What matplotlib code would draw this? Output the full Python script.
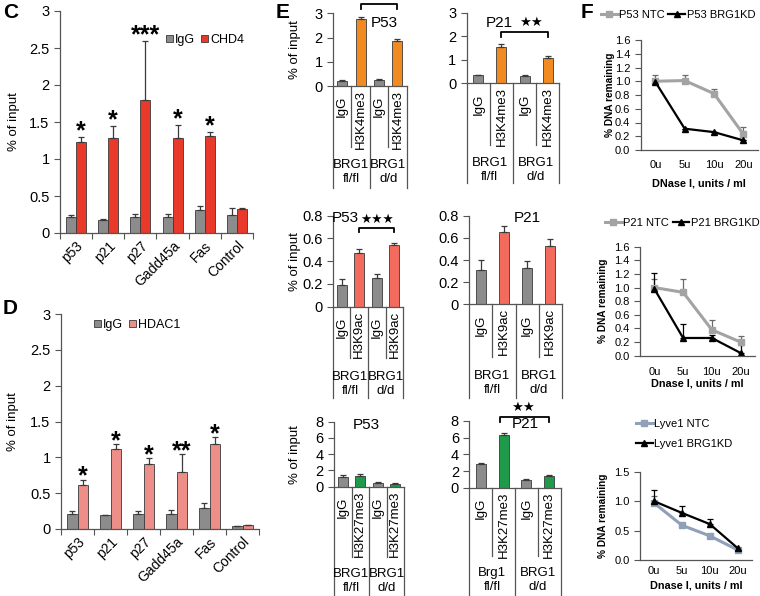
import matplotlib
matplotlib.use('Agg')
import matplotlib.pyplot as plt
import matplotlib.transforms as mtransforms
from matplotlib.lines import Line2D
from matplotlib.patches import Patch
import numpy as np

plt.rcParams['font.family'] = ['Liberation Sans', 'DejaVu Sans']

W, H = 760, 596
fig = plt.figure(figsize=(W / 100, H / 100), dpi=100)

# ---------------- data ----------------
genes = ['p53', 'p21', 'p27', 'Gadd45a', 'Fas', 'Control']
c_igg = [0.21, 0.18, 0.22, 0.21, 0.31, 0.24]
c_igg_err = [0.04, 0.01, 0.04, 0.05, 0.06, 0.10]
c_chd4 = [1.23, 1.28, 1.80, 1.28, 1.31, 0.33]
c_chd4_err = [0.07, 0.17, 0.80, 0.18, 0.06, 0.01]
c_stars = ['*', '*', '***', '*', '*', '']

d_igg = [0.21, 0.19, 0.21, 0.21, 0.30, 0.04]
d_igg_err = [0.04, 0.01, 0.04, 0.05, 0.06, 0.005]
d_hdac1 = [0.62, 1.12, 0.91, 0.79, 1.19, 0.05]
d_hdac1_err = [0.07, 0.07, 0.08, 0.26, 0.09, 0.01]
d_stars = ['*', '*', '*', '**', '*', '']

e_k4_labels = ['IgG', 'H3K4me3', 'IgG', 'H3K4me3']
e_k9_labels = ['IgG', 'H3K9ac', 'IgG', 'H3K9ac']
e_k27_labels = ['IgG', 'H3K27me3', 'IgG', 'H3K27me3']
e_groups = ['BRG1\nfl/fl', 'BRG1\nd/d']
e_groups_brg = ['Brg1\nfl/fl', 'BRG1\nd/d']

p53_k4 = [0.20, 2.77, 0.25, 1.87]
p53_k4_err = [0.03, 0.08, 0.03, 0.05]
p21_k4 = [0.34, 1.56, 0.33, 1.06]
p21_k4_err = [0.03, 0.12, 0.03, 0.12]
p53_k9 = [0.19, 0.47, 0.25, 0.54]
p53_k9_err = [0.05, 0.04, 0.04, 0.02]
p21_k9 = [0.31, 0.65, 0.33, 0.53]
p21_k9_err = [0.09, 0.06, 0.06, 0.06]
p53_k27 = [1.2, 1.35, 0.50, 0.37]
p53_k27_err = [0.25, 0.25, 0.06, 0.03]
p21_k27 = [2.8, 6.3, 0.9, 1.4]
p21_k27_err = [0.15, 0.3, 0.15, 0.07]

doses = ['0u', '5u', '10u', '20u']
f1_ntc = [1.00, 1.01, 0.82, 0.23]
f1_ntc_err = [0.09, 0.08, 0.07, 0.10]
f1_kd = [0.99, 0.31, 0.26, 0.14]
f1_kd_err = [0.05, 0.0, 0.0, 0.0]
f2_ntc = [1.00, 0.93, 0.38, 0.20]
f2_ntc_err = [0.12, 0.20, 0.14, 0.09]
f2_kd = [0.98, 0.26, 0.26, 0.04]
f2_kd_err = [0.23, 0.21, 0.04, 0.11]
f3_ntc = [0.97, 0.59, 0.41, 0.17]
f3_ntc_err = [0.12, 0.0, 0.0, 0.0]
f3_kd = [1.00, 0.80, 0.61, 0.20]
f3_kd_err = [0.19, 0.12, 0.08, 0.0]

GRAY = '#8c8c8c'
EDGE = '#3a3a3a'
AXC = '#555555'


def add_ax(l, t, r, b):
    return fig.add_axes([l / W, 1 - b / H, (r - l) / W, (b - t) / H])


def style(ax):
    for s in ('top', 'right'):
        ax.spines[s].set_visible(False)
    for s in ('left', 'bottom'):
        ax.spines[s].set_color(AXC)
        ax.spines[s].set_linewidth(0.9)
    ax.tick_params(colors=AXC, labelcolor='black', width=0.8, length=4, direction='out')


def place_ylabel(ax, text, xc, rect, **kw):
    l, t, r, b = rect
    ax.set_ylabel(text, **kw)
    ax.yaxis.set_label_coords((xc - l) / (r - l), 0.5)
    ax.yaxis.label.set_va('center')


def cd_panel(rect, igg, igg_err, v2, v2_err, color2, label2, stars, leg_anchor, ylab_x, star_off):
    ax = add_ax(*rect)
    style(ax)
    n = len(genes)
    x = np.arange(n) + 0.5
    w = 0.31
    z = np.zeros(n)
    ax.bar(x - w / 2, igg, w, color=GRAY, edgecolor=EDGE, lw=0.6)
    ax.bar(x + w / 2, v2, w, color=color2, edgecolor=EDGE, lw=0.6)
    ax.errorbar(x - w / 2, igg, yerr=[z, igg_err], fmt='none', ecolor=EDGE, elinewidth=0.9, capsize=2.5, capthick=0.9)
    ax.errorbar(x + w / 2, v2, yerr=[z, v2_err], fmt='none', ecolor=EDGE, elinewidth=0.9, capsize=2.5, capthick=0.9)
    for i, s in enumerate(stars):
        if s:
            ax.annotate(s, (x[i] + w / 2, v2[i] + v2_err[i]), xytext=(0, star_off), textcoords='offset points',
                        ha='center', va='baseline', fontsize=18, fontweight='bold')
    ax.set_xlim(0, n)
    ax.set_ylim(0, 3)
    ax.set_xticks(np.arange(n + 1))
    ax.set_xticklabels([])
    ax.set_xticks(x, minor=True)
    ax.set_xticklabels(genes, minor=True, rotation=45, ha='right', rotation_mode='anchor', fontsize=10)
    ax.tick_params(axis='x', which='minor', length=0, pad=4)
    yt = [0, 0.5, 1, 1.5, 2, 2.5, 3]
    ax.set_yticks(yt)
    ax.set_yticklabels(['0', '0.5', '1', '1.5', '2', '2.5', '3'], fontsize=10.5)
    place_ylabel(ax, '% of input', ylab_x, rect, fontsize=9.5)
    handles = [Patch(facecolor=GRAY, edgecolor=EDGE, lw=0.6, label='IgG'),
               Patch(facecolor=color2, edgecolor=EDGE, lw=0.6, label=label2)]
    fig.legend(handles=handles, loc='center left', bbox_to_anchor=(leg_anchor[0] / W, 1 - leg_anchor[1] / H),
               ncol=2, frameon=False, fontsize=9, handlelength=0.55, handleheight=0.55, handletextpad=0.2,
               columnspacing=0.45, borderpad=0, borderaxespad=0)
    return ax


cd_panel((60, 11, 253, 233), c_igg, c_igg_err, c_chd4, c_chd4_err, '#e8392a', 'CHD4', c_stars, (166, 40), 14, -1)
cd_panel((61, 314, 259, 529), d_igg, d_igg_err, d_hdac1, d_hdac1_err, '#ee8e88', 'HDAC1', d_stars, (94, 325), 13, -3)

fig.text(3 / W, 1 - 13 / H, 'C', fontsize=15, fontweight='bold', va='center', ha='left')
fig.text(3 / W, 1 - 309 / H, 'D', fontsize=15, fontweight='bold', va='center', ha='left')
fig.text(276 / W, 1 - 13 / H, 'E', fontsize=15, fontweight='bold', va='center', ha='left')
fig.text(581 / W, 1 - 12 / H, 'F', fontsize=15, fontweight='bold', va='center', ha='left')


def e_panel(rect, vals, errs, color, ylim, yticks, ytl, bar_labels, groups, short_px, long_px, group_px, ylabel):
    ax = add_ax(*rect)
    style(ax)
    l, t, r, b = rect
    hpx = b - t
    wpx = r - l
    slot = wpx / 4
    bw = 10 / slot
    x = np.arange(4) + 0.5
    cols = [GRAY, color, GRAY, color]
    ax.bar(x, vals, bw, color=cols, edgecolor=EDGE, lw=0.6)
    ax.errorbar(x, vals, yerr=[np.zeros(4), errs], fmt='none', ecolor=EDGE, elinewidth=0.9, capsize=2.5, capthick=0.9)
    ax.set_xlim(0, 4)
    ax.set_ylim(*ylim)
    ax.set_xticks([])
    ax.set_yticks(yticks)
    ax.set_yticklabels(ytl, fontsize=10.5)
    trans = mtransforms.blended_transform_factory(ax.transData, ax.transAxes)
    for xi in range(5):
        L = long_px if xi % 2 == 0 else short_px
        ax.plot([xi, xi], [0, -L / hpx], transform=trans, color=AXC, lw=0.9, clip_on=False)
    for i, lab in enumerate(bar_labels):
        off = 10 if lab == 'IgG' else 4
        ax.text(x[i], -off / hpx, lab, rotation=90, ha='center', va='top', transform=trans, fontsize=9.5)
    for g, gl in enumerate(groups):
        ax.text(2 * g + 1, -group_px / hpx, gl, ha='center', va='center', transform=trans, fontsize=9.5,
                linespacing=1.2)
    if ylabel:
        place_ylabel(ax, '% of input', 295, rect, fontsize=9.5)
    return ax


def bracket(ax, x0, x1, y, ydrop):
    ax.plot([x0, x0, x1, x1], [y - ydrop, y, y, y - ydrop], color='black', lw=1.3, clip_on=False,
            solid_joinstyle='round')


k4_t = [0, 1, 2, 3]
k4_l = ['0', '1', '2', '3']
k9_t = [0, 0.2, 0.4, 0.6, 0.8]
k9_l = ['0', '0.2', '0.4', '0.6', '0.8']
k27_t = [0, 2, 4, 6, 8]
k27_l = ['0', '2', '4', '6', '8']

ax1 = e_panel((333, 13.3, 406.7, 86), p53_k4, p53_k4_err, '#f28a22', (0, 3), k4_t, k4_l, e_k4_labels,
              e_groups, 61, 102, 86, True)
ax1.text(2.8, 2.6, 'P53', fontsize=11, ha='center', va='center')
bracket(ax1, 1.5, 3.5, 3.38, 0.2)

ax2 = e_panel((466.7, 12.7, 559.3, 83.3), p21_k4, p21_k4_err, '#f28a22', (0, 3), k4_t, k4_l, e_k4_labels,
              e_groups, 62, 100, 87, False)
ax2.text(1.40, 2.56, 'P21', fontsize=11, ha='center', va='center')
ax2.text(2.78, 2.56, '★★', fontsize=9.5, ha='center', va='center')
bracket(ax2, 1.5, 3.5, 2.19, 0.22)

ax3 = e_panel((332.7, 215.7, 403.3, 306.7), p53_k9, p53_k9_err, '#f26b5c', (0, 0.8), k9_t, k9_l, e_k9_labels,
              e_groups, 51, 91, 77, True)
ax3.text(0.72, 0.78, 'P53', fontsize=11, ha='center', va='center')
ax3.text(2.5, 0.76, '★★★', fontsize=9, ha='center', va='center')
bracket(ax3, 1.5, 3.5, 0.695, 0.035)

ax4 = e_panel((469.3, 215.7, 561.7, 304.3), p21_k9, p21_k9_err, '#f26b5c', (0, 0.8), k9_t, k9_l, e_k9_labels,
              e_groups, 53, 94, 79, False)
ax4.text(2.52, 0.78, 'P21', fontsize=11, ha='center', va='center')

ax5 = e_panel((334, 421.7, 404, 486.7), p53_k27, p53_k27_err, '#1e9a4a', (0, 8), k27_t, k27_l, e_k27_labels,
              e_groups, 70, 112, 94, True)
ax5.text(1.86, 7.6, 'P53', fontsize=11, ha='center', va='center')

ax6 = e_panel((469.3, 421, 560.7, 487.7), p21_k27, p21_k27_err, '#1e9a4a', (0, 8), k27_t, k27_l, e_k27_labels,
              e_groups_brg, 68, 112, 92, False)
ax6.text(2.46, 7.64, 'P21', fontsize=11, ha='center', va='center')
ax6.text(2.33, 9.56, '★★', fontsize=9.5, ha='center', va='center')
bracket(ax6, 1.34, 3.49, 8.51, 0.6)


def f_panel(rect, ntc, ntc_err, kd, kd_err, ylim, yticks, xlabel, ntc_color, labels, leg_xy, ncol,
            ylab_x, xlab_y, tick_pad):
    ax = add_ax(*rect)
    style(ax)
    l, t, r, b = rect
    x = np.arange(4) + 0.5
    z = np.zeros(4)
    ax.errorbar(x, ntc, yerr=[z, ntc_err], color=ntc_color, lw=2.2, marker='s', ms=5, capsize=2.5,
                ecolor='#6a6a6a', elinewidth=0.9, capthick=0.9)
    ax.errorbar(x, kd, yerr=[z, kd_err], color='black', lw=1.6, marker='^', ms=4.5, capsize=2.5,
                ecolor='black', elinewidth=0.9, capthick=0.9)
    ax.set_xlim(0, 4)
    ax.set_ylim(*ylim)
    ax.set_xticks(x)
    ax.set_xticklabels(doses, fontsize=8)
    ax.tick_params(axis='x', length=0, pad=tick_pad)
    ax.set_yticks(yticks)
    ax.set_yticklabels(['%.1f' % v for v in yticks], fontsize=8)
    place_ylabel(ax, '% DNA remaining', ylab_x, rect, fontsize=7.3, fontweight='bold')
    ax.set_xlabel(xlabel, fontsize=7.8, fontweight='bold')
    ax.xaxis.set_label_coords(0.5, -(xlab_y - b) / (b - t))
    ax.xaxis.label.set_va('center')
    handles = [Line2D([], [], color=ntc_color, lw=2.2, marker='s', ms=4.5, label=labels[0]),
               Line2D([], [], color='black', lw=1.6, marker='^', ms=4.5, label=labels[1])]
    fig.legend(handles=handles, loc='upper left', bbox_to_anchor=(leg_xy[0] / W, 1 - leg_xy[1] / H),
               ncol=ncol, frameon=False, fontsize=8, handlelength=1.5, handletextpad=0.15,
               columnspacing=0.3, borderpad=0, borderaxespad=0, labelspacing=0.9)
    return ax


f_panel((640.7, 40, 758, 150), f1_ntc, f1_ntc_err, f1_kd, f1_kd_err, (0, 1.6),
        [0, 0.2, 0.4, 0.6, 0.8, 1.0, 1.2, 1.4, 1.6], 'DNase I, units / ml', '#a3a3a3',
        ['P53 NTC', 'P53 BRG1KD'], (601, 10), 2, 610, 183, 7)
f_panel((640, 246.7, 755, 355.7), f2_ntc, f2_ntc_err, f2_kd, f2_kd_err, (0, 1.6),
        [0, 0.2, 0.4, 0.6, 0.8, 1.0, 1.2, 1.4, 1.6], 'Dnase I, units / ml', '#a3a3a3',
        ['P21 NTC', 'P21 BRG1KD'], (605, 218), 2, 603, 384, 8)
f_panel((640, 471.7, 751.7, 560), f3_ntc, f3_ntc_err, f3_kd, f3_kd_err, (0, 1.5),
        [0, 0.5, 1.0, 1.5], 'Dnase I, units / ml', '#8fa0b8',
        ['Lyve1 NTC', 'Lyve1 BRG1KD'], (636, 419), 1, 603, 586, 4)

fig.savefig('out.png', dpi=100)
